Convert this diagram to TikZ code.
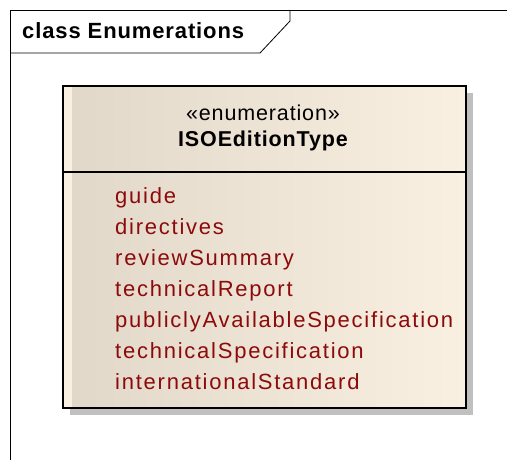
\documentclass[tikz,border=0pt]{standalone}
\usepackage{fontspec}
\setmainfont{Liberation Sans}
\newfontfamily\umlfont[LetterSpace=8]{Liberation Sans}
\newfontfamily\headfont[LetterSpace=4]{Liberation Sans}
\usetikzlibrary{positioning}
\definecolor{enumdark}{RGB}{226,216,202}
\definecolor{enumlight}{RGB}{250,240,226}
\definecolor{litred}{RGB}{140,10,10}
\definecolor{shadowgray}{RGB}{192,192,192}
\tikzstyle{literal}=[anchor=base west,inner sep=0pt,text=litred,font=\umlfont\fontsize{22}{31}\selectfont]
\tikzstyle{header}=[anchor=base,inner sep=0pt,font=\headfont\fontsize{21.5}{24}\selectfont]

\begin{document}
\begin{tikzpicture}[x=1pt,y=-1pt,line join=miter]
\useasboundingbox (0,0) rectangle (510,460);
% frame of the diagram
\draw[thick] (10,460) -- (10,10) -- (507,10);
\draw[thick] (10,53) -- (260,53) -- (290,21) -- (290,10);
\node[anchor=base west,inner sep=0pt,font=\headfont\bfseries\fontsize{22}{24}\selectfont] (title) at (22,38.5) {class Enumerations};
% the enumeration
\fill[shadowgray] (70,93) rectangle (473,415);
\fill[enumlight] (63,86) rectangle (466,408);
\shade[left color=enumdark,right color=enumlight] (72,87) rectangle (466,408);
\draw[line width=2pt] (63,86) rectangle (466,408);
\draw[line width=1.5pt] (63,172) -- (466,172);
\node[header] (stereo) at (263,120) {«enumeration»};
\node[header,font=\headfont\bfseries\fontsize{21.5}{24}\selectfont] (name) at (263,146) {ISOEditionType};
\node[literal] (guide) at (115,203) {guide};
\node[literal] (dir) at (115,234) {directives};
\node[literal] (rev) at (115,265) {reviewSummary};
\node[literal] (tr) at (115,296) {technicalReport};
\node[literal] (pas) at (115,327) {publiclyAvailableSpecification};
\node[literal] (ts) at (115,358) {technicalSpecification};
\node[literal] (is) at (115,389) {internationalStandard};
\end{tikzpicture}
\end{document}
